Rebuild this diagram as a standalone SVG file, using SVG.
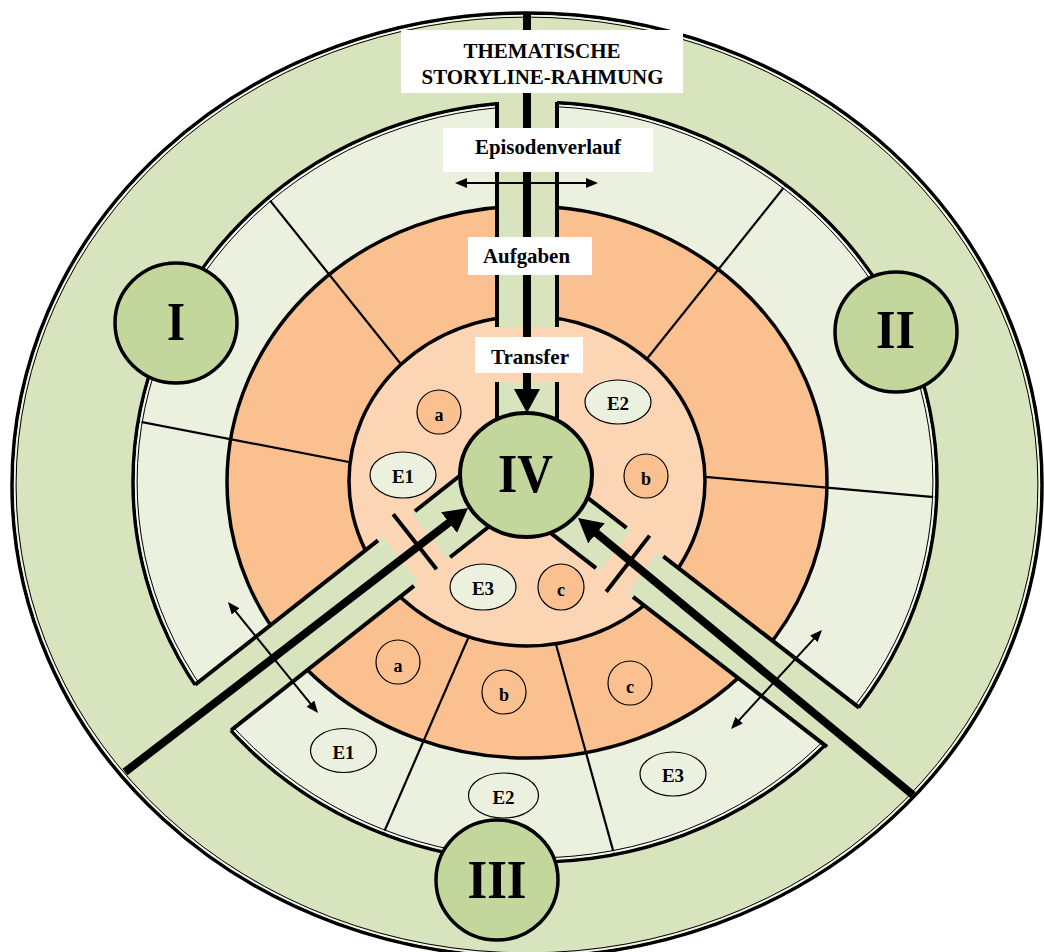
<svg xmlns="http://www.w3.org/2000/svg" width="1044" height="952" viewBox="0 0 1044 952">
<defs>
<style>
.lbl{font-family:"Liberation Serif","Times New Roman",serif;font-weight:bold;fill:#000;text-anchor:middle}
.wall{stroke:#000;stroke-width:4;fill:none}
.div{stroke:#000;stroke-width:2.2;fill:none}
.band{fill:#D7E4BD}
.box{fill:#fff}
.roman{fill:#C3D69B;stroke:#000;stroke-width:3.5}
.smo{fill:#FAC090;stroke:#000;stroke-width:1.2}
.smg{fill:#EBF1DE;stroke:#000;stroke-width:1.2}
.thick{stroke:#000;stroke-width:8;fill:none;marker-end:url(#bigHead)}
.thin{stroke:#000;stroke-width:2;fill:none;marker-start:url(#smallHead);marker-end:url(#smallHead)}
.bar{stroke:#000;stroke-width:4}
.lite{fill:none;stroke:#F4F7EE;stroke-width:1.5}
.hair{fill:none;stroke:#000;stroke-width:1}
</style>
<marker id="bigHead" markerUnits="userSpaceOnUse" markerWidth="24" markerHeight="26" viewBox="0 0 24 26" refX="4" refY="13" orient="auto"><path d="M0,0 L24,13 L0,26 z" fill="#000"/></marker>
<marker id="smallHead" markerUnits="userSpaceOnUse" markerWidth="12" markerHeight="10" viewBox="0 0 12 10" refX="2" refY="5" orient="auto-start-reverse"><path d="M0,0 L12,5 L0,10 z" fill="#000"/></marker>
<clipPath id="epiClip"><ellipse cx="535" cy="482" rx="402" ry="380"/></clipPath>
</defs>

<g id="outer-ring">
<ellipse cx="527" cy="485" rx="515" ry="472" fill="#D7E4BD" stroke="#000" stroke-width="3.5"/>
<ellipse class="lite" cx="527" cy="485" rx="512.3" ry="469.3"/>
<ellipse class="hair" cx="527" cy="485" rx="510.9" ry="467.9"/>
</g>

<g id="episode-ring">
<ellipse cx="535" cy="482" rx="402" ry="380" fill="#EBF1DE"/>
<ellipse cx="527" cy="482" rx="300" ry="276" fill="#FAC090" stroke="#000" stroke-width="3.5"/>
<g class="div" clip-path="url(#epiClip)">
<line x1="259.5" y1="187.4" x2="420" y2="388"/>
<line x1="127.4" y1="419.2" x2="390" y2="470"/>
<line x1="789.5" y1="180.4" x2="630" y2="380"/>
<line x1="953" y1="498.8" x2="680" y2="474.6"/>
<line x1="377" y1="848.3" x2="476" y2="620"/>
<line x1="618.3" y1="869.3" x2="552" y2="630"/>
</g>
<ellipse cx="535" cy="482" rx="402" ry="380" fill="none" stroke="#000" stroke-width="3.5"/>
<ellipse class="lite" cx="535" cy="482" rx="399.3" ry="377.3"/>
<ellipse class="hair" cx="535" cy="482" rx="397.9" ry="375.9"/>
</g>

<g id="inner-circle">
<ellipse cx="527" cy="481" rx="178" ry="165" fill="#FCD5B5" stroke="#000" stroke-width="3.5"/>
</g>

<g id="connectors">
<rect class="band" x="497" y="90" width="60" height="237"/>
<rect class="band" x="497" y="382" width="60" height="60"/>
<polygon class="band" points="156.6,715.2 382.7,536.6 418.7,582.1 192.6,760.7"/>
<polygon class="band" points="411.7,513.7 470.6,467.2 506.6,512.7 447.7,559.2"/>
<polygon class="band" points="887.5,729.8 658.1,552.3 627.2,592.3 856.6,769.8"/>
<polygon class="band" points="630.5,530.9 571.1,485 540.2,525 599.6,570.9"/>

<line class="wall" x1="497" y1="102" x2="497" y2="327"/>
<line class="wall" x1="557" y1="102" x2="557" y2="327"/>
<line class="wall" x1="497" y1="382" x2="497" y2="432"/>
<line class="wall" x1="557" y1="382" x2="557" y2="432"/>

<line class="wall" x1="195.1" y1="684.8" x2="378" y2="540.4"/>
<line class="wall" x1="231.1" y1="730.3" x2="414" y2="585.9"/>
<line class="wall" x1="414.9" y1="511.2" x2="466.7" y2="470.3"/>
<line class="wall" x1="450.1" y1="557.3" x2="494.8" y2="522"/>

<line class="wall" x1="859.1" y1="707.7" x2="663.3" y2="556.3"/>
<line class="wall" x1="827" y1="746.8" x2="633" y2="596.8"/>
<line class="wall" x1="626.5" y1="527.8" x2="579" y2="491.1"/>
<line class="wall" x1="596" y1="568.1" x2="546.6" y2="529.9"/>

<line class="bar" x1="393.2" y1="514.3" x2="436.6" y2="569.3"/>
<line class="bar" x1="649.6" y1="535.6" x2="606.2" y2="591.8"/>
</g>

<g id="node-IV">
<ellipse cx="526" cy="475" rx="66" ry="62" fill="#C3D69B" stroke="#000" stroke-width="4"/>
<text class="lbl" x="525.5" y="492" font-size="55" textLength="55" lengthAdjust="spacingAndGlyphs">IV</text>
</g>

<g id="arrows">
<line class="thick" x1="527" y1="13" x2="527" y2="393"/>
<line class="thick" x1="125" y1="772" x2="452.2" y2="520.2"/>
<line class="thick" x1="913" y1="795" x2="593.4" y2="530.7"/>
</g>

<g id="node-I">
<ellipse class="roman" cx="176" cy="323" rx="61" ry="60"/>
<text class="lbl" x="176" y="340" font-size="55" textLength="18" lengthAdjust="spacingAndGlyphs">I</text>
</g>
<g id="node-II">
<ellipse class="roman" cx="896" cy="332" rx="61" ry="60"/>
<text class="lbl" x="895.5" y="348" font-size="55" textLength="39" lengthAdjust="spacingAndGlyphs">II</text>
</g>
<g id="node-III">
<ellipse class="roman" cx="497" cy="880" rx="61" ry="60"/>
<text class="lbl" x="497" y="898" font-size="55" textLength="59" lengthAdjust="spacingAndGlyphs">III</text>
</g>

<g id="inner-items">
<g id="in-a"><circle class="smo" cx="439" cy="412" r="22"/><text class="lbl" x="439" y="421" font-size="18">a</text></g>
<g id="in-E2"><ellipse class="smg" cx="618" cy="402" rx="33" ry="22"/><text class="lbl" x="618" y="410" font-size="19">E2</text></g>
<g id="in-E1"><ellipse class="smg" cx="403" cy="475" rx="33" ry="23"/><text class="lbl" x="403" y="483" font-size="19">E1</text></g>
<g id="in-b"><circle class="smo" cx="646" cy="476" r="22"/><text class="lbl" x="646" y="485" font-size="18">b</text></g>
<g id="in-E3"><ellipse class="smg" cx="483" cy="587" rx="33" ry="23"/><text class="lbl" x="483" y="595" font-size="19">E3</text></g>
<g id="in-c"><circle class="smo" cx="561" cy="587" r="23"/><text class="lbl" x="561" y="596" font-size="18">c</text></g>
</g>

<g id="lower-items">
<g id="low-a"><circle class="smo" cx="398" cy="662" r="22"/><text class="lbl" x="398" y="672" font-size="18">a</text></g>
<g id="low-b"><circle class="smo" cx="504" cy="692" r="22"/><text class="lbl" x="504" y="701" font-size="18">b</text></g>
<g id="low-c"><circle class="smo" cx="630" cy="683" r="22"/><text class="lbl" x="630" y="693" font-size="18">c</text></g>
<g id="low-E1"><ellipse class="smg" cx="343.5" cy="750.5" rx="33" ry="22"/><text class="lbl" x="343.5" y="759" font-size="19">E1</text></g>
<g id="low-E2"><ellipse class="smg" cx="503.5" cy="795.5" rx="35" ry="22.5"/><text class="lbl" x="503.5" y="804" font-size="19">E2</text></g>
<g id="low-E3"><ellipse class="smg" cx="673" cy="774" rx="33" ry="22"/><text class="lbl" x="673" y="782" font-size="19">E3</text></g>
</g>

<g id="label-title">
<rect class="box" x="401" y="30" width="282" height="63"/>
<text class="lbl" x="542" y="58" font-size="22" textLength="157" lengthAdjust="spacingAndGlyphs">THEMATISCHE</text>
<text class="lbl" x="542.5" y="84" font-size="22" textLength="242" lengthAdjust="spacingAndGlyphs">STORYLINE-RAHMUNG</text>
</g>
<g id="label-episodenverlauf">
<rect class="box" x="443" y="128" width="210" height="44"/>
<text class="lbl" x="548" y="154" font-size="21" textLength="146" lengthAdjust="spacingAndGlyphs">Episodenverlauf</text>
</g>
<g id="label-aufgaben">
<rect class="box" x="468" y="237" width="124" height="38"/>
<text class="lbl" x="526.5" y="263" font-size="21" textLength="87" lengthAdjust="spacingAndGlyphs">Aufgaben</text>
</g>
<g id="label-transfer">
<rect class="box" x="475" y="337" width="108" height="36"/>
<text class="lbl" x="530" y="364" font-size="21" textLength="78" lengthAdjust="spacingAndGlyphs">Transfer</text>
</g>

<g id="double-arrows">
<line class="thin" x1="465" y1="183" x2="588" y2="183"/>
<line class="thin" x1="234.3" y1="609.8" x2="311.7" y2="705.2"/>
<line class="thin" x1="815.2" y1="637.4" x2="737.8" y2="721.6"/>
</g>
</svg>
